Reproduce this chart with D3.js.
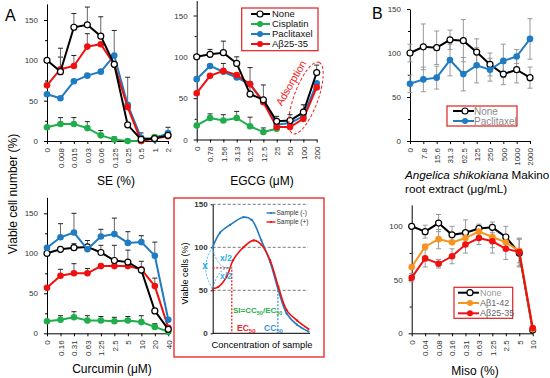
<!DOCTYPE html>
<html>
<head>
<meta charset="utf-8">
<script src="https://cdn.jsdelivr.net/npm/d3@7"></script>
<style>
  body { margin: 0; background: #fff; }
  text { font-family: "Liberation Sans", Arial, sans-serif; }
</style>
</head>
<body>
<script>
var width = 550, height = 378;

// ---- data: SE panel
var seCats = ["0", "0.008", "0.015", "0.03", "0.06", "0.125", "0.25", "0.5", "1", "2"];
var seNone = [100, 86, 141, 144, 130, 95, 20, 2, 3, 7];
var seNoneErr = [0, 29, 17, 22, 24, 0, 0, 0, 0, 0];
var seCis = [17, 21, 21, 16, 7, 2, 0, 0, 5, 8];
var seCisErr = [0, 8, 8, 8, 6, 3, 0, 0, 0, 0];
var sePac = [58, 53, 74, 81, 86, 106, 45, 4, 2, 10];
var sePacErr = [0, 0, 0, 0, 0, 31, 34, 6, 0, 7];
var seAb = [69, 89, 93, 117, 120, 95, 42, 0, 3, 6];
var seAbErr = [0, 15, 13, 16, 0, 0, 0, 0, 0, 0];

// ---- data: EGCG panel
var egCats = ["0", "0.78", "1.56", "3.13", "6.25", "12.5", "25", "50", "100", "200"];
var egNone = [100, 103, 105, 92, 55, 48, 22, 23, 33, 81];
var egNoneErr = [0, 6, 14, 8, 32, 18, 6, 7, 9, 9];
var egCis = [17, 26, 23, 26, 16, 9, 13, null, null, null];
var egCisErr = [0, 5, 7, 8, 11, 5, 0, 0, 0, 0];
var egPac = [73, 89, 82, 75, 67, 46, 18, 20, 28, 68];
var egPacErr = [0, 0, 10, 0, 0, 0, 0, 0, 0, 0];
var egAb = [56, 77, 83, 78, 67, 45, 15, 15, 25, 63];
var egAbErr = [0, 0, 0, 0, 0, 0, 0, 0, 0, 0];

// ---- data: Curcumin panel
var cuCats = ["0", "0.16", "0.31", "0.63", "1.25", "2.5", "5", "10", "20", "40"];
var cuNone = [100, 105, 107, 108, 101, 91, 89, 79, 28, 5];
var cuNoneErr = [0, 0, 5, 8, 9, 19, 15, 0, 0, 0];
var cuCis = [15, 17, 20, 16, 16, 15, 16, 14, 8, 2];
var cuCisErr = [0, 5, 7, 6, 5, 5, 5, 8, 4, 0];
var cuPac = [107, 120, 126, 105, 121, 124, 113, 114, 97, 17];
var cuPacErr = [0, 17, 24, 0, 9, 20, 14, 8, 17, 0];
var cuAb = [57, 72, 75, 75, 84, 84, 84, 80, 59, 7];
var cuAbErr = [0, 8, 12, 6, 0, 0, 0, 10, 10, 0];

// ---- data: Angelica panel (B top)
var anCats = ["0", "7.8", "15.6", "31.3", "62.5", "125", "250", "500", "1000", "2000"];
var anNone = [100, 107, 106, 115, 114, 101, 87, 76, 81, 72];
var anNoneErr = [10, 26, 19, 11, 24, 15, 13, 12, 15, 12];
var anPac = [65, 70, 72, 92, 76, 86, 81, 91, 96, 116];
var anPacErr = [10, 14, 13, 18, 19, 20, 13, 19, 8, 23];

// ---- data: Miso panel (B bottom)
var miCats = ["0", "0.04", "0.08", "0.16", "0.31", "0.63", "1.25", "2.5", "5", "10"];
var miNone = [100, 95, 103, 92, 94, 98, 99, 90, 75, 3];
var miNoneErr = [0, 6, 8, 8, 12, 4, 5, 10, 13, 0];
var miAb142 = [62, 81, 88, 85, 89, 95, 90, 85, 77, 4];
var miAb142Err = [0, 0, 9, 0, 0, 0, 10, 0, 11, 0];
var miAb2535 = [52, 70, 65, 72, 83, 89, 86, 79, 76, 5];
var miAb2535Err = [4, 8, 4, 7, 8, 6, 11, 10, 13, 0];

// ---- data: schematic inset
var inMinusX = [0, 7.5, 17.8, 31.5, 40, 50, 59, 67.5, 76, 86.5, 98.5];
var inMinusY = [100, 117, 126, 135, 132, 108, 83, 50, 23, 10, 2];
var inPlusX = [0, 5.8, 14.4, 21, 31.5, 42, 50, 59, 67.5, 76, 86.5, 98.5];
var inPlusY = [52, 54, 66, 85, 100, 108, 103, 85, 54, 27, 15, 5];
var inTicks = [0, 50, 100, 150];

var cBlack = "#000", cGreen = "#1fae4b", cBlue = "#1f7bc2", cRed = "#f01010", cOrange = "#f7941d";

var svg = d3.select("body").append("svg").attr("width", width).attr("height", height);

function panel(cfg) {
    var g = svg.append("g");
    var x = d3.scalePoint().domain(cfg.cats).range([cfg.x0, cfg.x1]);
    var y = d3.scaleLinear().domain([0, cfg.ymax]).range([cfg.y0, cfg.y0 - cfg.ymax * cfg.ppu]);

    // y axis
    var ya = g.append("g").attr("transform", "translate(" + cfg.x0 + ",0)")
        .call(d3.axisLeft(y).tickValues(cfg.yticks).tickSize(3).tickSizeOuter(0).tickPadding(6));
    ya.selectAll("text").style("font-size", "8px").style("fill", "#333");
    g.append("g").attr("transform", "translate(" + cfg.x0 + ",0)")
        .call(d3.axisLeft(y).tickValues(cfg.minor).tickSize(2).tickFormat(""))
        .select(".domain").remove();

    // x axis
    var xa = g.append("g").attr("transform", "translate(0," + cfg.y0 + ")")
        .call(d3.axisBottom(x).tickSize(3).tickSizeOuter(0));
    xa.selectAll("text")
        .attr("transform", "rotate(-90)")
        .attr("text-anchor", "end")
        .attr("x", -7).attr("y", 0).attr("dy", "0.35em")
        .style("font-size", "8px").style("fill", "#333");
    g.selectAll(".domain").attr("stroke", "#000");

    // error bars
    cfg.series.forEach(function (s) {
        if (!s.err) return;
        s.values.forEach(function (v, i) {
            var e = s.err[i];
            if (v == null || !e) return;
            var cx = x(cfg.cats[i]);
            var top = y(v + e), bot = cfg.both ? y(Math.max(0, v - e)) : y(v);
            g.append("line").attr("x1", cx).attr("x2", cx).attr("y1", top).attr("y2", bot)
                .attr("stroke", cfg.errColor).attr("stroke-width", 1);
            g.append("line").attr("x1", cx - 2.5).attr("x2", cx + 2.5).attr("y1", top).attr("y2", top)
                .attr("stroke", cfg.both ? cfg.errColor : "#222").attr("stroke-width", 1);
            if (cfg.both) {
                g.append("line").attr("x1", cx - 2.5).attr("x2", cx + 2.5).attr("y1", bot).attr("y2", bot)
                    .attr("stroke", cfg.errColor).attr("stroke-width", 1);
            }
        });
    });

    // lines + markers
    cfg.series.forEach(function (s) {
        var line = d3.line().defined(function (d) { return d != null; })
            .x(function (d, i) { return x(cfg.cats[i]); })
            .y(function (d) { return y(d); });
        g.append("path").datum(s.values).attr("d", line)
            .attr("fill", "none").attr("stroke", s.color).attr("stroke-width", 2);
        g.selectAll(null).data(s.values.map(function (v, i) { return { v: v, i: i }; })
            .filter(function (d) { return d.v != null; }))
            .enter().append("circle")
            .attr("cx", function (d) { return x(cfg.cats[d.i]); })
            .attr("cy", function (d) { return y(d.v); })
            .attr("r", s.open ? 3 : 3.3)
            .attr("fill", s.open ? "#fff" : s.color)
            .attr("stroke", s.open ? "#000" : "none")
            .attr("stroke-width", 1.2);
    });

    // x title
    if (cfg.title) {
        g.append("text").attr("x", cfg.titleX).attr("y", cfg.titleY)
            .attr("text-anchor", "middle").style("font-size", "12px").text(cfg.title);
    }
    return { g: g, x: x, y: y };
}

function legend(box, items, textColor) {
    var g = svg.append("g");
    g.append("rect").attr("x", box.x).attr("y", box.y).attr("width", box.w).attr("height", box.h)
        .attr("fill", "#fff").attr("stroke", "#e02020").attr("stroke-width", 1.2);
    items.forEach(function (it, i) {
        var yy = box.y0 + i * box.dy;
        g.append("line").attr("x1", box.lx1).attr("x2", box.lx2).attr("y1", yy).attr("y2", yy)
            .attr("stroke", it.color).attr("stroke-width", 2);
        g.append("circle").attr("cx", box.mx).attr("cy", yy).attr("r", 3)
            .attr("fill", it.open ? "#fff" : it.color)
            .attr("stroke", it.open ? "#000" : "none").attr("stroke-width", 1.2);
        g.append("text").attr("x", box.tx).attr("y", yy).attr("dy", "0.35em")
            .style("font-size", box.fs + "px").style("fill", it.tc || textColor).text(it.name);
    });
}

// ---- Panel A: SE
panel({
    cats: seCats, x0: 47, x1: 168, y0: 141, ppu: 121 / 150, ymax: 170,
    yticks: [0, 50, 100, 150], minor: [25, 75, 125], errColor: "#666",
    title: "SE (%)", titleX: 116, titleY: 185,
    series: [
        { values: seCis, err: seCisErr, color: cGreen },
        { values: sePac, err: sePacErr, color: cBlue },
        { values: seAb, err: seAbErr, color: cRed },
        { values: seNone, err: seNoneErr, color: cBlack, open: true }
    ]
});

// ---- Panel A: EGCG
var eg = panel({
    cats: egCats, x0: 196.7, x1: 316.7, y0: 139.5, ppu: 124 / 150, ymax: 168,
    yticks: [0, 50, 100, 150], minor: [25, 75, 125], errColor: "#666",
    title: "EGCG (\u03bcM)", titleX: 262, titleY: 185,
    series: [
        { values: egCis, err: egCisErr, color: cGreen },
        { values: egPac, err: egPacErr, color: cBlue },
        { values: egAb, err: egAbErr, color: cRed },
        { values: egNone, err: egNoneErr, color: cBlack, open: true }
    ]
});

// adsorption annotation
eg.g.append("ellipse").attr("cx", 0).attr("cy", 0).attr("rx", 38).attr("ry", 12)
    .attr("transform", "translate(306,98) rotate(-70)")
    .attr("fill", "none").attr("stroke", "#f02020").attr("stroke-width", 1)
    .attr("stroke-dasharray", "3,2");
eg.g.append("text").attr("transform", "translate(291,83) rotate(-60)")
    .attr("text-anchor", "middle").attr("dy", "0.35em")
    .style("font-size", "10.5px").style("fill", "#f02020").text("Adsorption");

legend({ x: 241.7, y: 8, w: 76.3, h: 42.7, y0: 14, dy: 10, lx1: 251, lx2: 270, mx: 260, tx: 272, fs: 9.5 }, [
    { name: "None", color: cBlack, open: true },
    { name: "Cisplatin", color: cGreen },
    { name: "Paclitaxel", color: cBlue },
    { name: "A\u03b225-35", color: cRed }
], "#111");

// ---- Panel A: Curcumin
panel({
    cats: cuCats, x0: 47, x1: 168.3, y0: 333.3, ppu: 0.8, ymax: 170,
    yticks: [0, 50, 100, 150], minor: [25, 75, 125], errColor: "#666",
    title: "Curcumin  (\u03bcM)", titleX: 112, titleY: 373,
    series: [
        { values: cuCis, err: cuCisErr, color: cGreen },
        { values: cuAb, err: cuAbErr, color: cRed },
        { values: cuNone, err: cuNoneErr, color: cBlack, open: true },
        { values: cuPac, err: cuPacErr, color: cBlue }
    ]
});

// ---- Panel B: Angelica
panel({
    cats: anCats, x0: 410, x1: 530, y0: 141, ppu: 0.88, ymax: 150,
    yticks: [0, 50, 100, 150], minor: [25, 75, 125], errColor: "#999", both: true,
    series: [
        { values: anNone, err: anNoneErr, color: cBlack, open: true },
        { values: anPac, err: anPacErr, color: cBlue }
    ]
});
svg.append("text").attr("x", 405).attr("y", 179).style("font-size", "11.7px")
    .html('<tspan font-style="italic">Angelica shikokiana</tspan> Makino');
svg.append("text").attr("x", 405).attr("y", 193).style("font-size", "11.7px").text("root extract  (\u03bcg/mL)");
legend({ x: 447, y: 106, w: 70, h: 20, y0: 111, dy: 10, lx1: 453, lx2: 474, mx: 465, tx: 474, fs: 10 }, [
    { name: "None", color: cBlack, open: true },
    { name: "Paclitaxel", color: cBlue }
], "#888");

// ---- Panel B: Miso
panel({
    cats: miCats, x0: 411.7, x1: 532.7, y0: 333.3, ppu: 1.07, ymax: 120,
    yticks: [0, 50, 100], minor: [25, 75], errColor: "#999", both: true,
    title: "Miso (%)", titleX: 475, titleY: 375,
    series: [
        { values: miNone, err: miNoneErr, color: cBlack, open: true },
        { values: miAb142, err: miAb142Err, color: cOrange },
        { values: miAb2535, err: miAb2535Err, color: cRed }
    ]
});
legend({ x: 454, y: 287.3, w: 58.7, h: 31, y0: 292.7, dy: 10.3, lx1: 458, lx2: 479, mx: 470, tx: 480, fs: 9 }, [
    { name: "None", color: cBlack, open: true, tc: "#999" },
    { name: "A\u03b21-42", color: cOrange },
    { name: "A\u03b225-35", color: cRed }
], "#666");

// ---- inset schematic
svg.append("rect").attr("x", 174).attr("y", 198).attr("width", 150).attr("height", 159)
    .attr("fill", "none").attr("stroke", "#e82020").attr("stroke-width", 1.3);
var ix = d3.scaleLinear().domain([0, 100]).range([212.7, 310]);
var iy = d3.scaleLinear().domain([0, 150]).range([333.3, 204.3]);
var ig = svg.append("g");
ig.selectAll(null).data([50, 100, 150]).enter().append("line")
    .attr("x1", ix(0)).attr("x2", ix(98)).attr("y1", iy).attr("y2", iy)
    .attr("stroke", "#555").attr("stroke-width", 0.8).attr("stroke-dasharray", "3,2");
var iya = ig.append("g").attr("transform", "translate(" + ix(0) + ",0)")
    .call(d3.axisLeft(iy).tickValues(inTicks).tickSize(2).tickPadding(3).tickSizeOuter(0));
iya.selectAll("text").style("font-size", "8px").style("font-weight", "bold").style("fill", "#333");
ig.append("line").attr("x1", ix(0)).attr("x2", ix(100)).attr("y1", iy(0)).attr("y2", iy(0))
    .attr("stroke", "#000").attr("stroke-width", 1);

var curve = d3.line().x(function (d) { return ix(d[0]); }).y(function (d) { return iy(d[1]); })
    .curve(d3.curveCatmullRom);
var minusPts = inMinusX.map(function (v, i) { return [v, inMinusY[i]]; });
var plusPts = inPlusX.map(function (v, i) { return [v, inPlusY[i]]; });
[[minusPts, cBlue], [plusPts, cRed]].forEach(function (p) {
    ig.append("path").datum(p[0]).attr("d", curve).attr("fill", "none")
        .attr("stroke", p[1]).attr("stroke-width", 1.6);
    ig.selectAll(null).data(p[0]).enter().append("circle")
        .attr("cx", function (d) { return ix(d[0]); }).attr("cy", function (d) { return iy(d[1]); })
        .attr("r", 1.1).attr("fill", p[1]);
});

// EC50 / CC50 guides
var ecX = 19.6, ecY = 76, ccX = 67;
ig.append("path").attr("d", "M" + ix(0) + "," + iy(ecY) + "H" + ix(ecX) + "V" + iy(0))
    .attr("fill", "none").attr("stroke", "#f02020").attr("stroke-width", 1.3).attr("stroke-dasharray", "2,1.5");
ig.append("line").attr("x1", ix(ccX)).attr("x2", ix(ccX)).attr("y1", iy(50)).attr("y2", iy(0))
    .attr("stroke", "#3a8fd8").attr("stroke-width", 1.3).attr("stroke-dasharray", "2,1.5");

// cyan brackets
var cyan = "#2aaee6";
function arc(x1, y1, x2, y2, cx, cy) {
    ig.append("path").attr("d", "M" + x1 + "," + y1 + "Q" + cx + "," + cy + " " + x2 + "," + y2)
        .attr("fill", "none").attr("stroke", cyan).attr("stroke-width", 0.9).attr("stroke-dasharray", "2,1.5");
}
arc(ix(0), iy(100), ix(0), iy(52), ix(0) - 14, (iy(100) + iy(52)) / 2);
arc(ix(0), iy(100), ix(ecX), iy(ecY), ix(0) + 4, iy(ecY) + 2);
arc(ix(ecX), iy(ecY), ix(0), iy(52), ix(0) + 6, iy(ecY) - 2);
ig.append("text").attr("x", 205).attr("y", 265).attr("text-anchor", "middle").attr("dy", "0.35em")
    .style("font-size", "10px").style("font-weight", "bold").style("fill", cyan).text("x");
ig.append("text").attr("x", 226).attr("y", 258).attr("text-anchor", "middle").attr("dy", "0.35em")
    .style("font-size", "8.5px").style("font-weight", "bold").style("fill", cyan).text("x/2");
ig.append("text").attr("x", 226).attr("y", 276).attr("text-anchor", "middle").attr("dy", "0.35em")
    .style("font-size", "8.5px").style("font-weight", "bold").style("fill", cyan).text("x/2");

// labels inside inset
ig.append("text").attr("x", 233).attr("y", 313).style("font-size", "8px").style("font-weight", "bold")
    .style("fill", cGreen)
    .html('SI=CC<tspan font-size="5.5px" dy="2">50</tspan><tspan dy="-2">/EC</tspan><tspan font-size="5.5px" dy="2">50</tspan>');
ig.append("text").attr("x", 237).attr("y", 331).style("font-size", "8.5px").style("font-weight", "bold")
    .style("fill", "#f02020").html('EC<tspan font-size="6px" dy="2">50</tspan>');
ig.append("text").attr("x", 264).attr("y", 331).style("font-size", "8.5px").style("font-weight", "bold")
    .style("fill", "#3a8fd8").html('CC<tspan font-size="6px" dy="2">50</tspan>');
ig.append("text").attr("transform", "translate(188,273.5) rotate(-90)").attr("text-anchor", "middle")
    .style("font-size", "9px").text("Viable cells (%)");
ig.append("text").attr("x", 262).attr("y", 348).attr("text-anchor", "middle")
    .style("font-size", "9.3px").text("Concentration of sample");
[["Sample (-)", cBlue, 213], ["Sample (+)", cRed, 222]].forEach(function (l) {
    ig.append("line").attr("x1", 266.5).attr("x2", 275.5).attr("y1", l[2]).attr("y2", l[2])
        .attr("stroke", l[1]).attr("stroke-width", 1.4);
    ig.append("circle").attr("cx", 271).attr("cy", l[2]).attr("r", 1.1).attr("fill", l[1]);
    ig.append("text").attr("x", 276.5).attr("y", l[2]).attr("dy", "0.35em")
        .style("font-size", "6.5px").style("fill", "#333").text(l[0]);
});

// ---- shared labels
svg.append("text").attr("transform", "translate(17,194) rotate(-90)").attr("text-anchor", "middle")
    .style("font-size", "12px").text("Viable cell number (%)");
svg.append("text").attr("x", 5).attr("y", 21).style("font-size", "16px").text("A");
svg.append("text").attr("x", 372).attr("y", 19).style("font-size", "16px").text("B");
</script>
</body>
</html>
